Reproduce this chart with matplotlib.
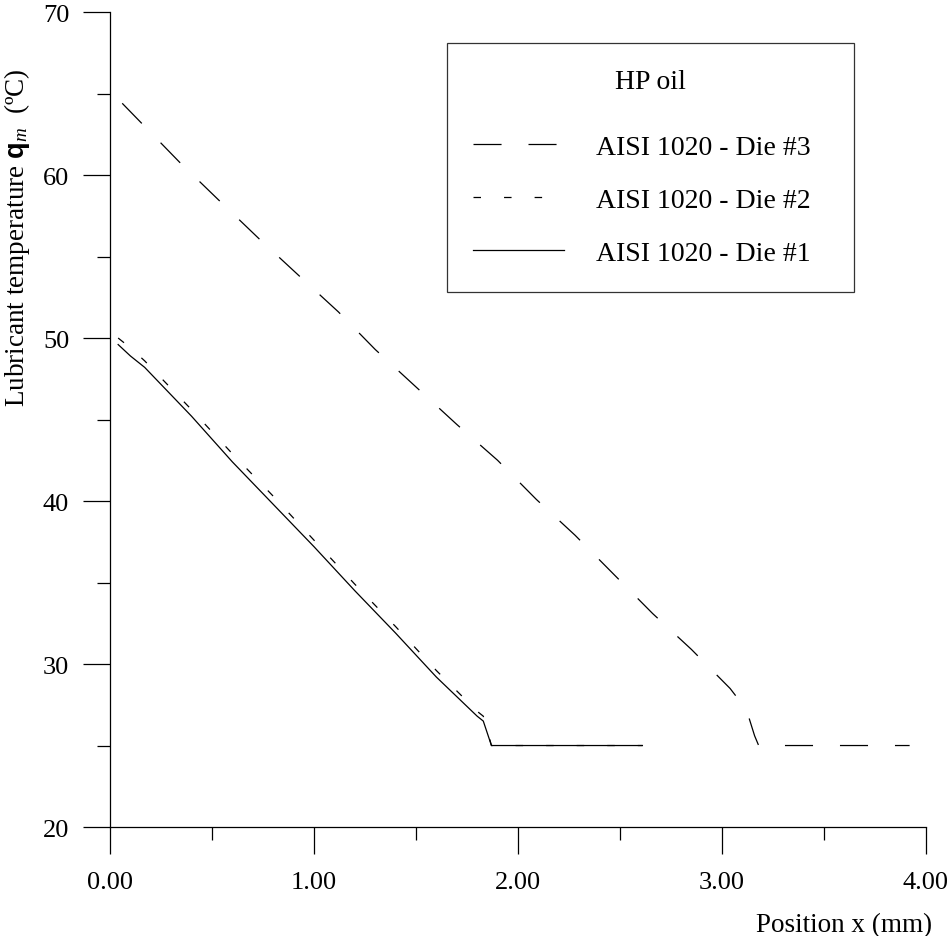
import matplotlib
matplotlib.use("Agg")
import matplotlib.pyplot as plt
from matplotlib.ticker import MultipleLocator, FormatStrFormatter

plt.rcParams['font.family'] = 'Liberation Serif'
plt.rcParams['mathtext.fontset'] = 'custom'
plt.rcParams['mathtext.rm'] = 'Liberation Serif'
plt.rcParams['mathtext.it'] = 'Liberation Serif:italic'
plt.rcParams['mathtext.bf'] = 'Liberation Sans:bold'
plt.rcParams['lines.scale_dashes'] = False

# --------- Donnees --------- #
x_die3 = [0.06, 0.34, 0.53, 0.73, 0.92, 1.12, 1.30, 1.50, 1.70, 1.90, 2.09, 2.28, 2.47, 2.66, 2.85, 3.04, 3.12, 3.16, 3.18, 3.92]
T_die3 = [64.4, 60.8, 58.5, 56.1, 53.9, 51.6, 49.3, 47.0, 44.7, 42.5, 40.1, 37.9, 35.5, 33.1, 30.9, 28.5, 27.2, 25.6, 25.0, 25.0]

x_die2 = [0.04, 0.10, 0.17, 0.40, 0.60, 0.80, 1.00, 1.20, 1.40, 1.60, 1.80, 1.83, 1.87, 2.61]
T_die2 = [50.0, 49.4, 48.6, 45.6, 42.9, 40.3, 37.6, 34.9, 32.3, 29.6, 27.1, 26.8, 25.0, 25.0]

x_die1 = [0.04, 0.10, 0.17, 0.40, 0.60, 0.80, 1.00, 1.20, 1.40, 1.60, 1.80, 1.83, 1.87, 2.61]
T_die1 = [49.6, 48.9, 48.2, 45.2, 42.4, 39.8, 37.2, 34.5, 31.9, 29.2, 26.8, 26.5, 25.0, 25.0]

labels = ["AISI 1020 - Die #3", "AISI 1020 - Die #2", "AISI 1020 - Die #1"]
# --------- Donnees --------- #

fig = plt.figure(figsize=(9.49, 9.37), dpi=100)
ax = fig.add_axes([0.1159, 0.1163, 0.8598, 0.8698])

lw = 0.9
ax.plot(x_die3, T_die3, color='k', lw=lw, dashes=(20.2, 19.4), label=labels[0])
ax.plot(x_die2, T_die2, color='k', lw=lw, dashes=(5.4, 16.6), label=labels[1])
ax.plot(x_die1, T_die1, color='k', lw=lw, label=labels[2])

ax.set_xlim(0, 4)
ax.set_ylim(20, 70)
ax.spines['top'].set_visible(False)
ax.spines['right'].set_visible(False)
ax.spines['left'].set_linewidth(0.9)
ax.spines['bottom'].set_linewidth(0.9)

ax.xaxis.set_major_locator(MultipleLocator(1))
ax.xaxis.set_minor_locator(MultipleLocator(0.5))
ax.xaxis.set_major_formatter(FormatStrFormatter('%.2f'))
ax.yaxis.set_major_locator(MultipleLocator(10))
ax.yaxis.set_minor_locator(MultipleLocator(5))

ax.tick_params(which='major', length=19.4, width=0.9, labelsize=19, direction='out')
ax.tick_params(which='minor', length=9.4, width=0.9, direction='out')
ax.tick_params(axis='x', which='major', pad=12)
ax.tick_params(axis='y', which='major', pad=10)

ax.set_ylabel(r"Lubricant temperature $\mathbf{q}_{m}$  (ºC)", fontsize=19.5)
ax.yaxis.set_label_coords(-0.096, 0.7245)
ax.set_xlabel("Position x (mm)", fontsize=19.5, ha='right')
ax.xaxis.set_label_coords(1.007, -0.105)

leg = ax.legend(title="HP oil", loc='upper left', bbox_to_anchor=(0.413, 0.962, 0.499, 0.0),
                mode='expand', borderaxespad=0, fontsize=20, title_fontsize=20, frameon=True,
                fancybox=False, edgecolor='k', handlelength=3.3, handletextpad=1.15,
                labelspacing=1.0, borderpad=0.93)
leg.get_frame().set_linewidth(0.9)
# ecart titre / premiere entree plus grand que l'interligne
leg._legend_box.sep = 29

plt.savefig("out.png", dpi=100)
